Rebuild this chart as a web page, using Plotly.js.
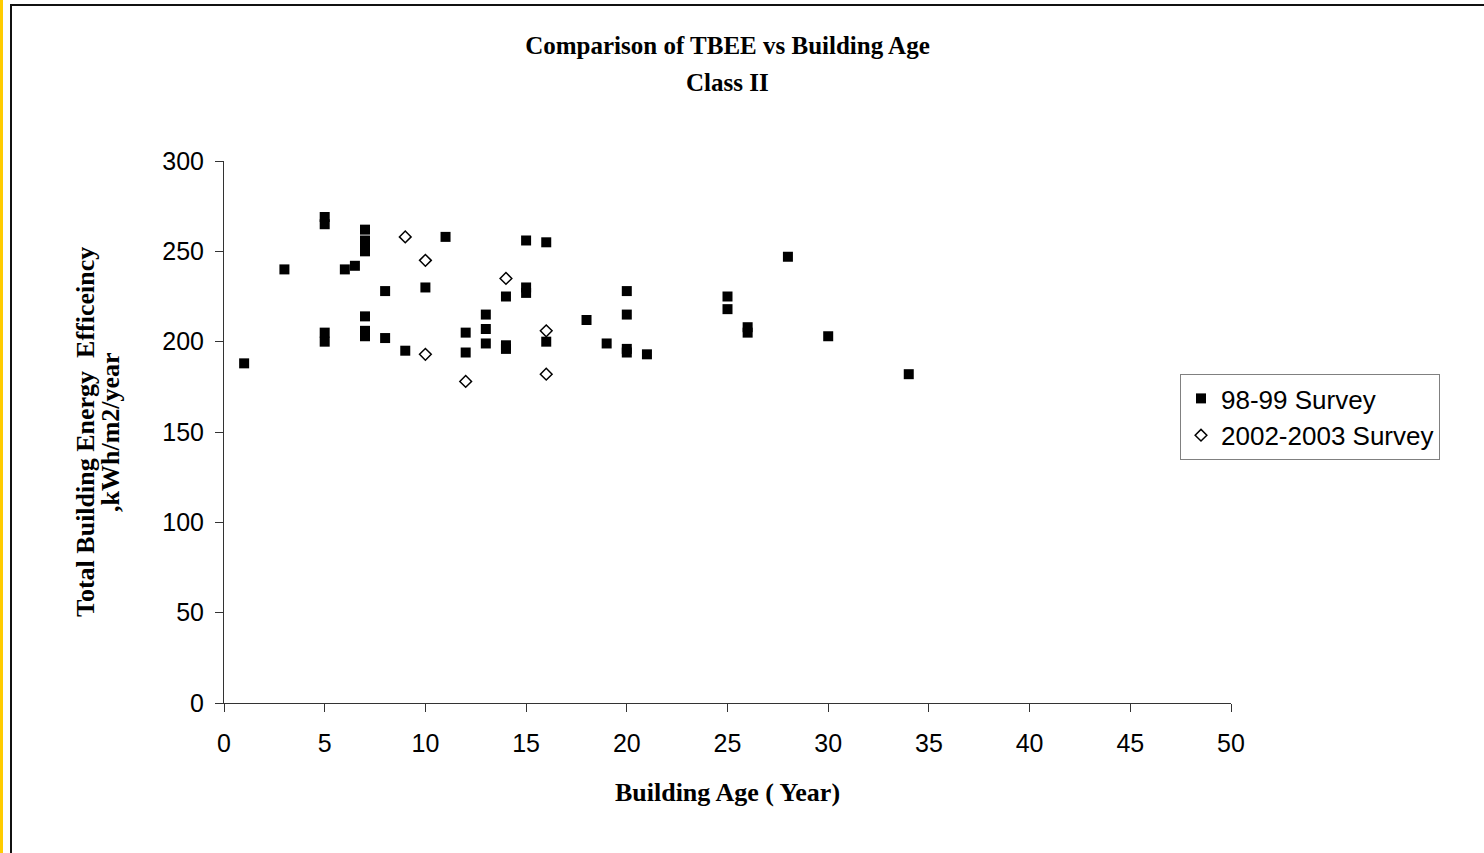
<!DOCTYPE html>
<html>
<head>
<meta charset="utf-8">
<script src="https://cdn.plot.ly/plotly-3.0.1.min.js"></script>
<style>
  html, body { margin: 0; padding: 0; background: #ffffff; width: 1484px; height: 853px; overflow: hidden; }
  #yellow { position: absolute; left: 0; top: 0; width: 3px; height: 853px; background: #ffcc00; }
  #frame { position: absolute; left: 10px; top: 4px; width: 1500px; height: 900px; border-left: 2px solid #111; border-top: 2px solid #111; box-sizing: border-box; }
  #chart { position: absolute; left: 0; top: 0; width: 1484px; height: 853px; }
</style>
</head>
<body>
<div id="yellow"></div>
<div id="frame"></div>
<div id="chart"></div>
<script>
// Series 1: 98-99 Survey
const age9899 = [1, 3, 5, 5, 5, 5, 6, 6.5, 7, 7, 7, 7, 7, 7, 7, 8, 8, 9, 10, 11, 12, 12, 13, 13, 13, 14, 14, 14, 15, 15, 15, 16, 16, 18, 19, 20, 20, 20, 20, 21, 25, 25, 26, 26, 28, 30, 34];
const tbee9899 = [188, 240, 269, 265, 205, 200, 240, 242, 262, 256, 253, 250, 214, 206, 203, 228, 202, 195, 230, 258, 205, 194, 215, 207, 199, 225, 198, 196, 256, 230, 227, 255, 200, 212, 199, 228, 215, 196, 194, 193, 225, 218, 208, 205, 247, 203, 182];
// Series 2: 2002-2003 Survey
const age0203 = [9, 10, 10, 12, 14, 16, 16];
const tbee0203 = [258, 245, 193, 178, 235, 206, 182];

const seriesNames = ["98-99 Survey", "2002-2003 Survey"];
const xTicks = [0, 5, 10, 15, 20, 25, 30, 35, 40, 45, 50];
const yTicks = [0, 50, 100, 150, 200, 250, 300];

const serif = "Liberation Serif, Times New Roman, serif";
const sans = "Liberation Sans, Arial, sans-serif";

const traces = [
  {
    type: "scatter", mode: "markers", name: seriesNames[0],
    x: age9899, y: tbee9899,
    marker: { symbol: "square", size: 10, color: "#000000" }
  },
  {
    type: "scatter", mode: "markers", name: seriesNames[1],
    x: age0203, y: tbee0203,
    marker: { symbol: "diamond-open", size: 9, color: "#000000", line: { width: 1.5, color: "#000000" } }
  }
];

const axisCommon = {
  showgrid: false, zeroline: false, showline: true, linecolor: "#333333", linewidth: 1,
  ticks: "outside", ticklen: 8, tickwidth: 1, tickcolor: "#333333",
  tickfont: { family: sans, size: 25, color: "#000000" }
};

const layout = {
  width: 1484, height: 853,
  paper_bgcolor: "rgba(0,0,0,0)", plot_bgcolor: "rgba(0,0,0,0)",
  margin: { l: 224, r: 253, t: 161, b: 150 },
  showlegend: true,
  title: {
    text: "Comparison of TBEE vs Building Age",
    font: { family: serif, size: 25, weight: "bold", color: "#000000" },
    xref: "paper", x: 0.5, xanchor: "center",
    yref: "container", y: 1 - 45 / 853, yanchor: "middle"
  },
  annotations: [
    {
      text: "Class II", showarrow: false,
      xref: "paper", x: 0.5, xanchor: "center",
      yref: "paper", y: (703 - 83) / 542, yanchor: "middle",
      font: { family: serif, size: 25, weight: "bold", color: "#000000" }
    },
    {
      text: "Total Building Energy  Efficeincy", showarrow: false, textangle: -90,
      xref: "paper", x: (85 - 224) / 1007, xanchor: "center",
      yref: "paper", y: 0.5, yanchor: "middle",
      font: { family: serif, size: 26, weight: "bold", color: "#000000" }
    },
    {
      text: ",kWh/m2/year", showarrow: false, textangle: -90,
      xref: "paper", x: (110 - 224) / 1007, xanchor: "center",
      yref: "paper", y: 0.5, yanchor: "middle",
      font: { family: serif, size: 26, weight: "bold", color: "#000000" }
    }
  ],
  xaxis: Object.assign({}, axisCommon, {
    range: [0, 50], tickvals: xTicks, ticktext: xTicks.map(String),
    ticklabelstandoff: 10,
    title: { text: "Building Age ( Year)", standoff: 26, font: { family: serif, size: 26, weight: "bold", color: "#000000" } }
  }),
  yaxis: Object.assign({}, axisCommon, {
    range: [0, 300], tickvals: yTicks, ticktext: yTicks.map(String),
    ticklabelstandoff: 6
  }),
  legend: {
    x: (1180 - 224) / 1007, xanchor: "left",
    y: (703 - 374) / 542, yanchor: "top",
    bgcolor: "#ffffff", bordercolor: "#808080", borderwidth: 1,
    font: { family: sans, size: 26, color: "#000000" },
    tracegroupgap: 0
  }
};

Plotly.newPlot("chart", traces, layout, { displayModeBar: false, staticPlot: true });
</script>
</body>
</html>
